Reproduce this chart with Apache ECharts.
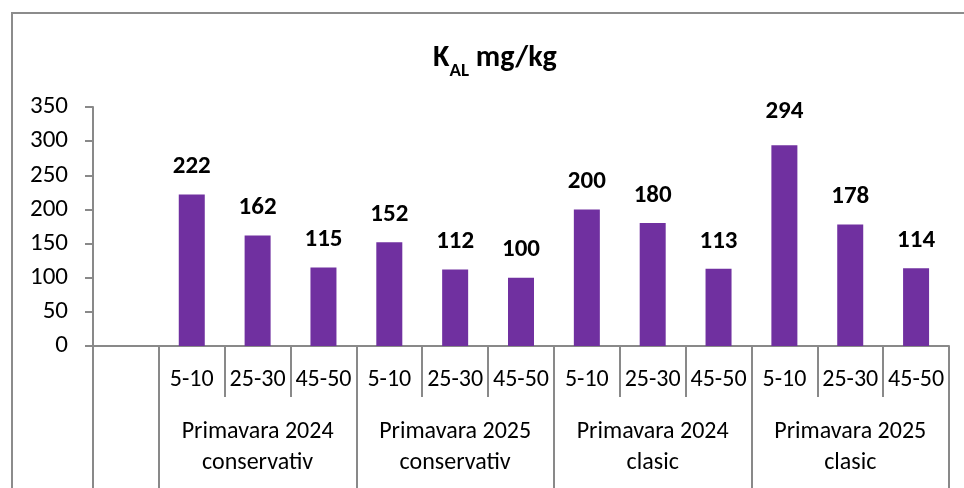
<!DOCTYPE html>
<html><head><meta charset="utf-8">
<script src="https://cdn.jsdelivr.net/npm/echarts@6/dist/echarts.min.js"></script>
<style>html,body{margin:0;padding:0;background:#fff}#c{width:964px;height:488px}</style>
</head><body><div id="c"></div>
<script>
var depths = ['', '5-10','25-30','45-50','5-10','25-30','45-50','5-10','25-30','45-50','5-10','25-30','45-50'];
var groups = ['', '', 'Primavara 2024\nconservativ', '', '', 'Primavara 2025\nconservativ', '', '', 'Primavara 2024\nclasic', '', '', 'Primavara 2025\nclasic', ''];
var values = [null, 222, 162, 115, 152, 112, 100, 200, 180, 113, 294, 178, 114];
var yTicks = {min: 0, max: 350, interval: 50};

var FONT = 'Carlito, Lato, "Liberation Sans", sans-serif';
var axisColor = '#898989';
var groupTickIdx = [0, 1, 4, 7, 10, 13];
var groupLabelIdx = [2, 5, 8, 11];

var seriesData = values.map(function (v, i) {
  if (v === 294) return {value: v, label: {distance: 21}};
  return v;
});

var chart = echarts.init(document.getElementById('c'));
chart.setOption({
  animation: false,
  title: {
    text: '{k|K}{s|AL}{k| mg/kg}',
    left: 428, top: 38,
    textStyle: {
      rich: {
        k: {fontFamily: FONT, fontWeight: 'bold', fontSize: 30, color: '#000'},
        s: {fontFamily: FONT, fontWeight: 'bold', fontSize: 19, color: '#000', verticalAlign: 'bottom', padding: [0,0,-8,0]}
      }
    }
  },
  graphic: [{type: 'rect', shape: {x: 12, y: 13, width: 1000, height: 600}, style: {fill: 'none', stroke: '#8c8c8c', lineWidth: 2}, silent: true}],
  grid: {left: 93, right: 15, top: 107, bottom: 142},
  xAxis: [{
    type: 'category', data: depths, position: 'bottom',
    axisLine: {lineStyle: {color: axisColor, width: 2}},
    axisTick: {show: true, interval: 0, length: 51, lineStyle: {color: axisColor, width: 2}},
    axisLabel: {interval: 0, margin: 22, fontFamily: FONT, fontSize: 24, color: '#000'}
  }, {
    type: 'category', data: groups, position: 'bottom',
    axisLine: {show: false},
    axisTick: {show: true, length: 145, interval: function (i) { return groupTickIdx.indexOf(i) >= 0; }, lineStyle: {color: axisColor, width: 2}},
    axisLabel: {interval: function (i) { return groupLabelIdx.indexOf(i) >= 0; }, margin: 70, fontFamily: FONT, fontSize: 24, lineHeight: 31, color: '#000', align: 'center'}
  }],
  yAxis: {
    type: 'value', min: yTicks.min, max: yTicks.max, interval: yTicks.interval,
    axisLine: {show: true, lineStyle: {color: axisColor, width: 2}},
    axisTick: {show: true, length: 8, lineStyle: {color: axisColor, width: 2}},
    splitLine: {show: false},
    axisLabel: {margin: 25, fontFamily: FONT, fontSize: 25, color: '#000'}
  },
  series: [{
    type: 'bar', data: seriesData, xAxisIndex: 0, barWidth: 26,
    itemStyle: {color: '#7030A0'},
    label: {show: true, position: 'top', distance: 15, fontFamily: FONT, fontWeight: 'bold', fontSize: 25, color: '#000'}
  }]
});
</script></body></html>
